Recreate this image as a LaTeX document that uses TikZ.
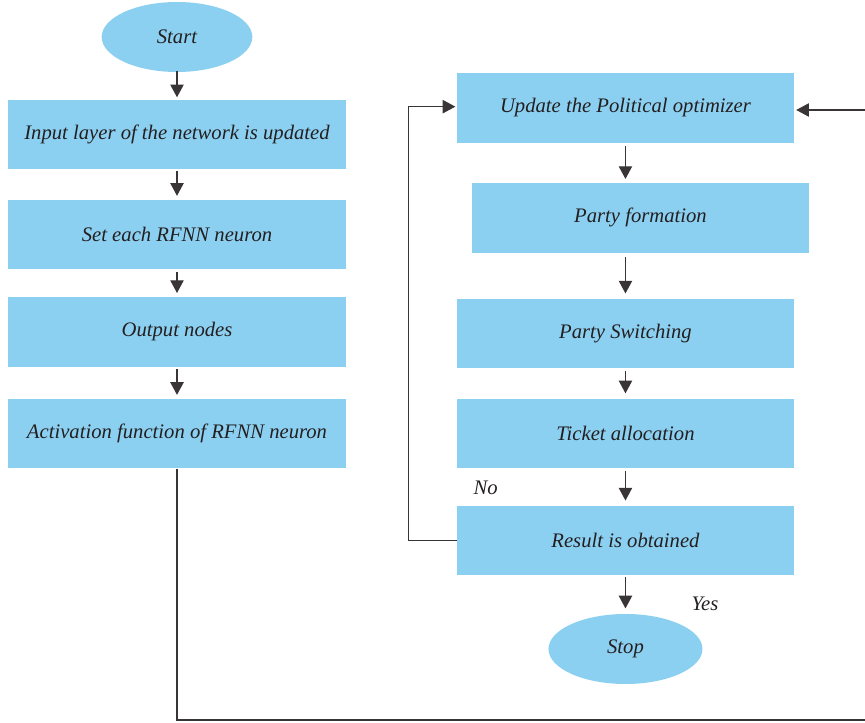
\documentclass[tikz,border=0pt]{standalone}
\usepackage{fontspec}
\setmainfont{Liberation Serif}
\usepackage{tikz}
\usetikzlibrary{positioning,arrows.meta,shapes.geometric,calc}
\usepackage{xcolor}
\definecolor{boxblue}{RGB}{140,208,241}
\definecolor{inkgray}{RGB}{35,31,32}

\begin{document}
\begin{tikzpicture}[
  node distance=22pt,
  box/.style={fill=boxblue, minimum height=52pt, minimum width=253pt, align=center, font=\fontsize{15.5}{18}\selectfont\itshape, text=inkgray},
  term/.style={ellipse, fill=boxblue, minimum height=52.5pt, minimum width=113pt, font=\fontsize{15.5}{18}\selectfont\itshape, text=inkgray},
  arr/.style={-{Triangle[length=9.5pt, width=10pt]}, line width=0.9pt, draw=inkgray!90},
  line/.style={line width=0.9pt, draw=inkgray!90}
]
\useasboundingbox (0,0) rectangle (648.75pt,-542.25pt);
\clip (0,0) rectangle (648.75pt,-542.25pt);

% left column
\node[term] (start) at (132.75pt,-27.75pt) {Start};
\node[box, below=20.25pt of start] (input) {Input layer of the network is updated};
\node[box, below=23pt of input] (neuron) {Set each RFNN neuron};
\node[box, below=20.5pt of neuron] (output) {Output nodes};
\node[box, below=24pt of output] (activ) {Activation function of RFNN neuron};

% right column
\node[box, minimum width=252.75pt] (update) at (469.1pt,-81pt) {Update the Political optimizer};
\node[box, minimum width=252.75pt, below=30pt of update, xshift=11.25pt] (party) {Party formation};
\node[box, minimum width=252.75pt, below=34.5pt of party, xshift=-11.25pt] (switch) {Party Switching};
\node[box, minimum width=252.75pt, below=22.5pt of switch] (ticket) {Ticket allocation};
\node[box, minimum width=252.75pt, below=28pt of ticket] (result) {Result is obtained};
\node[term, minimum width=115.5pt, below=28.5pt of result] (stop) {Stop};

\node[font=\fontsize{15.5}{18}\selectfont\itshape, text=inkgray] (no) at ($(result.north west)+(21.75pt,13.5pt)$) {No};
\node[font=\fontsize{15.5}{18}\selectfont\itshape, text=inkgray] (yes) at ($(result.south)+(59.6pt,-21pt)$) {Yes};

\coordinate (corner) at (652pt,-540pt);

\draw[arr, shorten <=-1pt, shorten >=1.5pt] (start) -- (input);
\draw[arr, shorten <=1.5pt, shorten >=3pt] (input) -- (neuron);
\draw[arr, shorten <=1.5pt, shorten >=3pt] (neuron) -- (output);
\draw[arr, shorten <=1.5pt, shorten >=3pt] (output) -- (activ);

\draw[arr, shorten <=2pt, shorten >=3pt] (update.south) -- (update.south |- party.north);
\draw[arr, shorten <=3.5pt, shorten >=4pt] (update.south |- party.south) -- (switch.north);
\draw[arr, shorten <=1.5pt, shorten >=4pt] (switch) -- (ticket);
\draw[arr, shorten <=2pt, shorten >=4pt] (ticket) -- (result);
\draw[arr, shorten <=1pt, shorten >=4pt] (result) -- (stop);

\draw[arr, shorten >=1pt] (result.west) -- ++(-36pt,0) |- ([yshift=1pt]update.west);
\draw[line] (activ.south) |- (corner);
\draw[arr, shorten >=1.5pt] (corner) |- ([yshift=-1.5pt]update.east);
\end{tikzpicture}
\end{document}
